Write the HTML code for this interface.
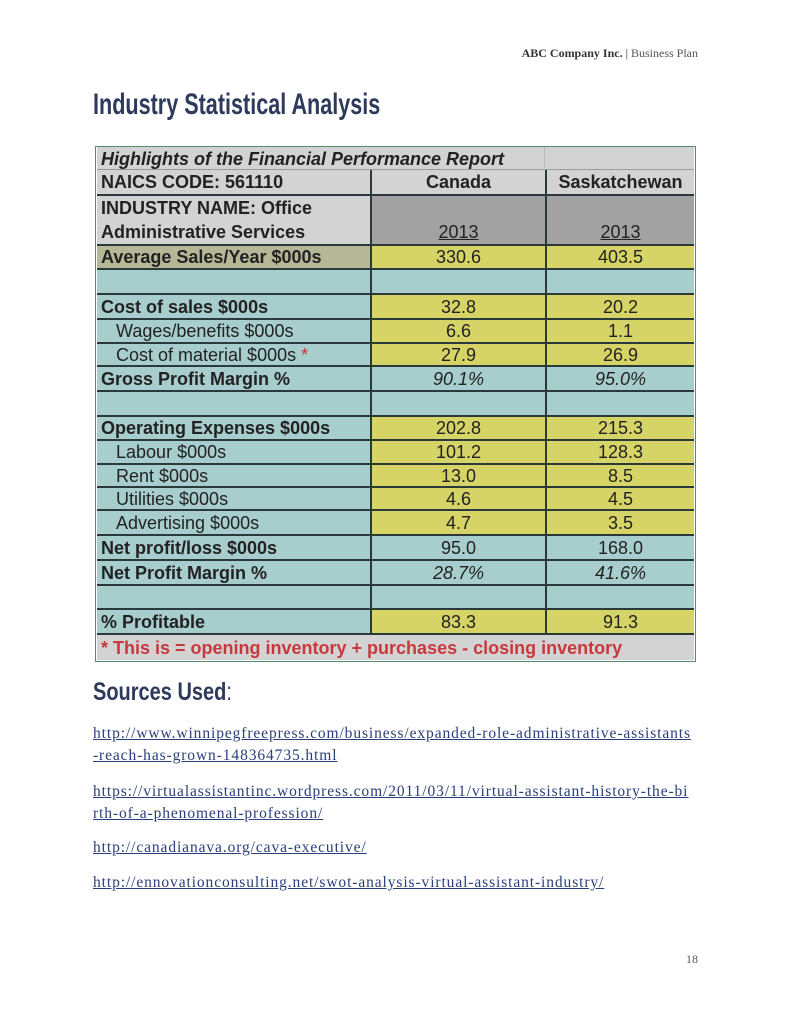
<!DOCTYPE html>
<html><head><meta charset="utf-8"><style>
body{margin:0;width:791px;height:1024px;background:#fff;position:relative;overflow:hidden;font-family:"Liberation Sans",sans-serif}
.a{position:absolute}
.c{position:absolute;box-sizing:border-box;font-size:18px;color:#222;line-height:1;display:flex;align-items:center;border-bottom:2px solid #2a3a3a;white-space:nowrap}
.l{padding-left:4px;font-weight:bold}
.v{justify-content:center}
.t{background:#a8cdcd}.y{background:#d6d466}.g{background:#d3d3d3}.d{background:#a2a2a2}.o{background:#b5b896}
.link{position:absolute;left:93px;font-family:"Liberation Serif",serif;font-size:15.5px;color:#2a3f7a;text-decoration:underline;line-height:22px;letter-spacing:0.9px;white-space:nowrap}
</style></head><body>
<div class="a" style="right:93px;top:46px;font-family:'Liberation Serif',serif;font-size:12px;color:#333"><b>ABC Company Inc.</b> | <span style="color:#555">Business Plan</span></div>
<div class="a" style="left:93px;top:88px;font-family:'Liberation Sans Narrow','Liberation Sans',sans-serif;font-size:30px;font-weight:bold;color:#2e3a5c;transform:scaleX(0.72);transform-origin:left;white-space:nowrap">Industry Statistical Analysis</div>
<div class="a" style="left:95px;top:146px;width:601px;height:516px;border:1px solid #5a8a6a;box-sizing:border-box"></div>
<div id="tbl"></div>
<div class="a" style="left:93px;top:678px;font-family:'Liberation Sans Narrow','Liberation Sans',sans-serif;font-size:25px;font-weight:bold;color:#2e3a5c;transform:scaleX(0.8);transform-origin:left;white-space:nowrap">Sources Used<span style="font-weight:normal">:</span></div>
<div class="link" style="top:723px">http://www.winnipegfreepress.com/business/expanded-role-administrative-assistants<br>-reach-has-grown-148364735.html</div>
<div class="link" style="top:781px">https://virtualassistantinc.wordpress.com/2011/03/11/virtual-assistant-history-the-bi<br>rth-of-a-phenomenal-profession/</div>
<div class="link" style="top:837px">http://canadianava.org/cava-executive/</div>
<div class="link" style="top:872px">http://ennovationconsulting.net/swot-analysis-virtual-assistant-industry/</div>
<div class="a" style="right:93px;top:952px;font-family:'Liberation Serif',serif;font-size:12px;color:#555">18</div>
<script>
const X=[97,370,545,694];
const rows=[
[170,196,'g','NAICS CODE: 561110','g','Canada','g','Saskatchewan',2],
[196,246,'g','INDUSTRY NAME: Office<br>Administrative Services','d','<u>2013</u>','d','<u>2013</u>',3],
[246,270,'o','Average Sales/Year $000s','y','330.6','y','403.5'],
[270,295,'t','','t','','t',''],
[295,320,'t','Cost of sales $000s','y','32.8','y','20.2'],
[320,344,'t','&nbsp;&nbsp;&nbsp;<span style="font-weight:normal">Wages/benefits $000s</span>','y','6.6','y','1.1'],
[344,367,'t','&nbsp;&nbsp;&nbsp;<span style="font-weight:normal">Cost of material $000s <span style="color:#c33">*</span></span>','y','27.9','y','26.9'],
[367,392,'t','Gross Profit Margin %','t','<i>90.1%</i>','t','<i>95.0%</i>'],
[392,417,'t','','t','','t',''],
[417,441,'t','Operating Expenses $000s','y','202.8','y','215.3'],
[441,465,'t','&nbsp;&nbsp;&nbsp;<span style="font-weight:normal">Labour $000s</span>','y','101.2','y','128.3'],
[465,488,'t','&nbsp;&nbsp;&nbsp;<span style="font-weight:normal">Rent $000s</span>','y','13.0','y','8.5'],
[488,511,'t','&nbsp;&nbsp;&nbsp;<span style="font-weight:normal">Utilities $000s</span>','y','4.6','y','4.5'],
[511,536,'t','&nbsp;&nbsp;&nbsp;<span style="font-weight:normal">Advertising $000s</span>','y','4.7','y','3.5'],
[536,561,'t','Net profit/loss $000s','t','95.0','t','168.0'],
[561,586,'t','Net Profit Margin %','t','<i>28.7%</i>','t','<i>41.6%</i>'],
[586,610,'t','','t','','t',''],
[610,635,'t','% Profitable','y','83.3','y','91.3'],
];
let h='';
h+=`<div class="c g" style="left:97px;top:147px;width:597px;height:23px;border-bottom:1px solid #999"></div>`;
h+=`<div class="a" style="left:544px;top:147px;width:1px;height:23px;background:#bbb"></div>`;
h+=`<div class="c l" style="left:97px;top:147px;width:450px;height:23px;border:none;background:transparent;font-style:italic">Highlights of the Financial Performance Report</div>`;
rows.forEach(r=>{const [a,b]=r;
 let al=r[8]==3?'flex-direction:column;align-items:flex-start;justify-content:center;line-height:24px;':'';
 h+=`<div class="c l ${r[2]}" style="left:${X[0]}px;top:${a}px;width:${X[1]-X[0]}px;height:${b-a}px;${al}">${r[3]}</div>`;
 let va=r[8]==3?'align-items:flex-end;padding-bottom:3px;':'';
 for(let k=1;k<3;k++)h+=`<div class="c v ${r[2*k+2]}" style="left:${X[k]}px;top:${a}px;width:${X[k+1]-X[k]}px;height:${b-a}px;border-left:2px solid #2a3a3a;${va}${r[8]==2?'font-weight:bold':''}">${r[2*k+3]}</div>`;
});
h+=`<div class="c l g" style="left:97px;top:635px;width:597px;height:25px;border:none;color:#c8383c">* This is = opening inventory + purchases - closing inventory</div>`;
document.getElementById('tbl').innerHTML=h;
</script>
</body></html>
